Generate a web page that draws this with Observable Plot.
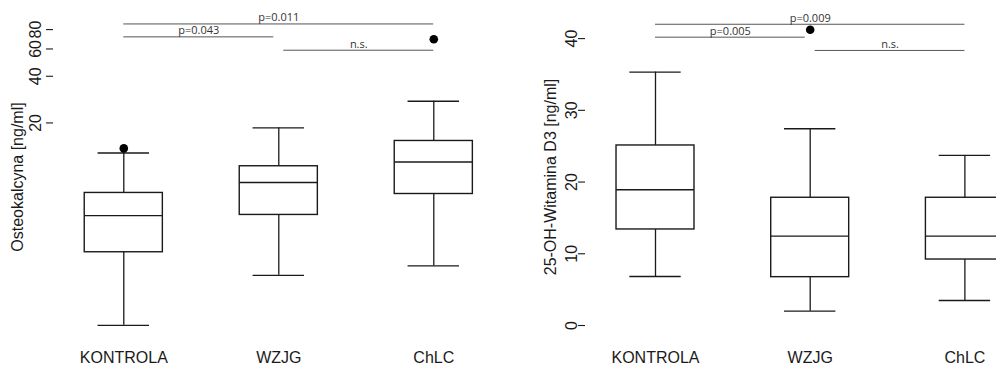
<!DOCTYPE html>
<html><head><meta charset="utf-8">
<script src="https://cdn.jsdelivr.net/npm/d3@7"></script>
<script src="https://cdn.jsdelivr.net/npm/@observablehq/plot@0.6"></script>
<style>
body{margin:0;background:#fff;overflow:hidden}
#wrap{display:flex;width:996px;height:369px;overflow:hidden}
#wrap svg{flex:none}
</style></head><body><div id="wrap"></div>
<script>
const categories = ["KONTROLA", "WZJG", "ChLC"];

// Osteokalcyna [ng/ml] (log axis)
const osteoLow    = [0.99, 2.08, 2.39];
const osteoQ1     = [2.93, 5.10, 6.96];
const osteoMedian = [5.05, 8.25, 11.2];
const osteoQ3     = [7.07, 10.51, 15.3];
const osteoHigh   = [12.8, 18.57, 27.6];
const osteoOutGroup = ["KONTROLA", "ChLC"];
const osteoOutValue = [13.7, 69.3];
const osteoTicks = [20, 40, 60, 80];
const osteoSigY = [87, 71.8, 58.9];

// 25-OH-Witamina D3 [ng/ml]
const vitLow    = [6.83, 2.0, 3.49];
const vitQ1     = [13.39, 6.74, 9.2];
const vitMedian = [18.93, 12.46, 12.46];
const vitQ3     = [25.1, 17.81, 17.81];
const vitHigh   = [35.33, 27.43, 23.71];
const vitOutGroup = ["WZJG"];
const vitOutValue = [41.24];
const vitTicks = [0, 10, 20, 30, 40];
const vitSigY = [42.0, 40.2, 38.35];

// significance comparisons
const sigFrom = ["KONTROLA", "KONTROLA", "WZJG"];
const sigTo   = ["ChLC", "WZJG", "ChLC"];
const osteoSigLabel = ["p=0.011", "p=0.043", "n.s."];
const vitSigLabel   = ["p=0.009", "p=0.005", "n.s."];

const pos = c => categories.indexOf(c) + 1;
const BOX = 0.252, CAP = 0.166, GAP = 0.032;
const INK = "#1a1a1a";

function panel(o) {
  const rows = categories.map((c, k) => ({
    x: k + 1, low: o.low[k], q1: o.q1[k], med: o.med[k], q3: o.q3[k], high: o.high[k]
  }));
  const outs = o.outGroup.map((g, k) => ({x: pos(g), v: o.outValue[k]}));
  const sig = sigFrom.map((f, k) => {
    const a = pos(f), b = pos(sigTo[k]);
    const x1 = a + (a === 2 ? GAP : 0), x2 = b - (b === 2 ? GAP : 0);
    return {x1, x2, xm: (x1 + x2) / 2, y: o.sigY[k], label: o.sigLabel[k]};
  });
  return Plot.plot({
    width: 498, height: 369,
    marginLeft: o.marginLeft, marginRight: 0, marginTop: 13, marginBottom: 29,
    style: {fontFamily: "'Liberation Sans', Arial, sans-serif", fontSize: "16px", background: "#fff", color: INK},
    x: {type: "linear", domain: o.xDomain},
    y: o.y,
    marks: [
      Plot.axisY({ticks: o.ticks, tickFormat: () => "", tickSize: 7, line: true, label: null,
        stroke: INK, strokeWidth: 1.1}),
      Plot.text(o.ticks, {y: d => d, text: d => String(d), frameAnchor: "left", dx: o.tickDx,
        rotate: -90, textAnchor: "middle", lineAnchor: "bottom", fontSize: 16, fill: INK}),
      Plot.axisX({ticks: [1, 2, 3], tickFormat: d => categories[d - 1], tickSize: 0,
        tickPadding: 11, fontSize: 16, label: null}),
      Plot.text([o.title], {frameAnchor: "left", dx: o.titleDx, rotate: -90,
        textAnchor: "middle", lineAnchor: "middle", fontSize: 16, fill: INK}),
      // whiskers
      Plot.ruleX(rows, {x: "x", y1: "q3", y2: "high", stroke: INK, strokeWidth: 1.3}),
      Plot.ruleX(rows, {x: "x", y1: "low", y2: "q1", stroke: INK, strokeWidth: 1.3}),
      Plot.ruleY(rows, {y: "high", x1: d => d.x - CAP, x2: d => d.x + CAP, stroke: INK, strokeWidth: 1.3}),
      Plot.ruleY(rows, {y: "low", x1: d => d.x - CAP, x2: d => d.x + CAP, stroke: INK, strokeWidth: 1.3}),
      // boxes
      Plot.rect(rows, {x1: d => d.x - BOX, x2: d => d.x + BOX, y1: "q1", y2: "q3",
        fill: "white", stroke: INK, strokeWidth: 1.4}),
      Plot.ruleY(rows, {y: "med", x1: d => d.x - BOX, x2: d => d.x + BOX, stroke: INK, strokeWidth: 1.4}),
      // outliers
      Plot.dot(outs, {x: "x", y: "v", r: 4.3, fill: "black", stroke: "none"}),
      // significance bars
      Plot.ruleY(sig, {y: "y", x1: "x1", x2: "x2", stroke: "#555", strokeWidth: 1}),
      Plot.text(sig, {x: "xm", y: "y", text: "label", lineAnchor: "bottom", dy: -2.5,
        fontFamily: "'Open Sans', sans-serif", fontSize: 11, fill: "#333"})
    ]
  });
}

const wrap = document.getElementById("wrap");
wrap.appendChild(panel({
  low: osteoLow, q1: osteoQ1, med: osteoMedian, q3: osteoQ3, high: osteoHigh,
  outGroup: osteoOutGroup, outValue: osteoOutValue, ticks: osteoTicks,
  sigY: osteoSigY, sigLabel: osteoSigLabel,
  y: {type: "log", domain: [0.79, 101.6]},
  xDomain: [0.5465, 3.4175], marginLeft: 53, tickDx: -13, titleDx: -35.5,
  title: "Osteokalcyna [ng/ml]"
}));
wrap.appendChild(panel({
  low: vitLow, q1: vitQ1, med: vitMedian, q3: vitQ3, high: vitHigh,
  outGroup: vitOutGroup, outValue: vitOutValue, ticks: vitTicks,
  sigY: vitSigY, sigLabel: vitSigLabel,
  y: {type: "linear", domain: [-2.09, 43.5]},
  xDomain: [0.5475, 3.2043], marginLeft: 87, tickDx: -9, titleDx: -35,
  title: "25-OH-Witamina D3 [ng/ml]"
}));
</script></body></html>
